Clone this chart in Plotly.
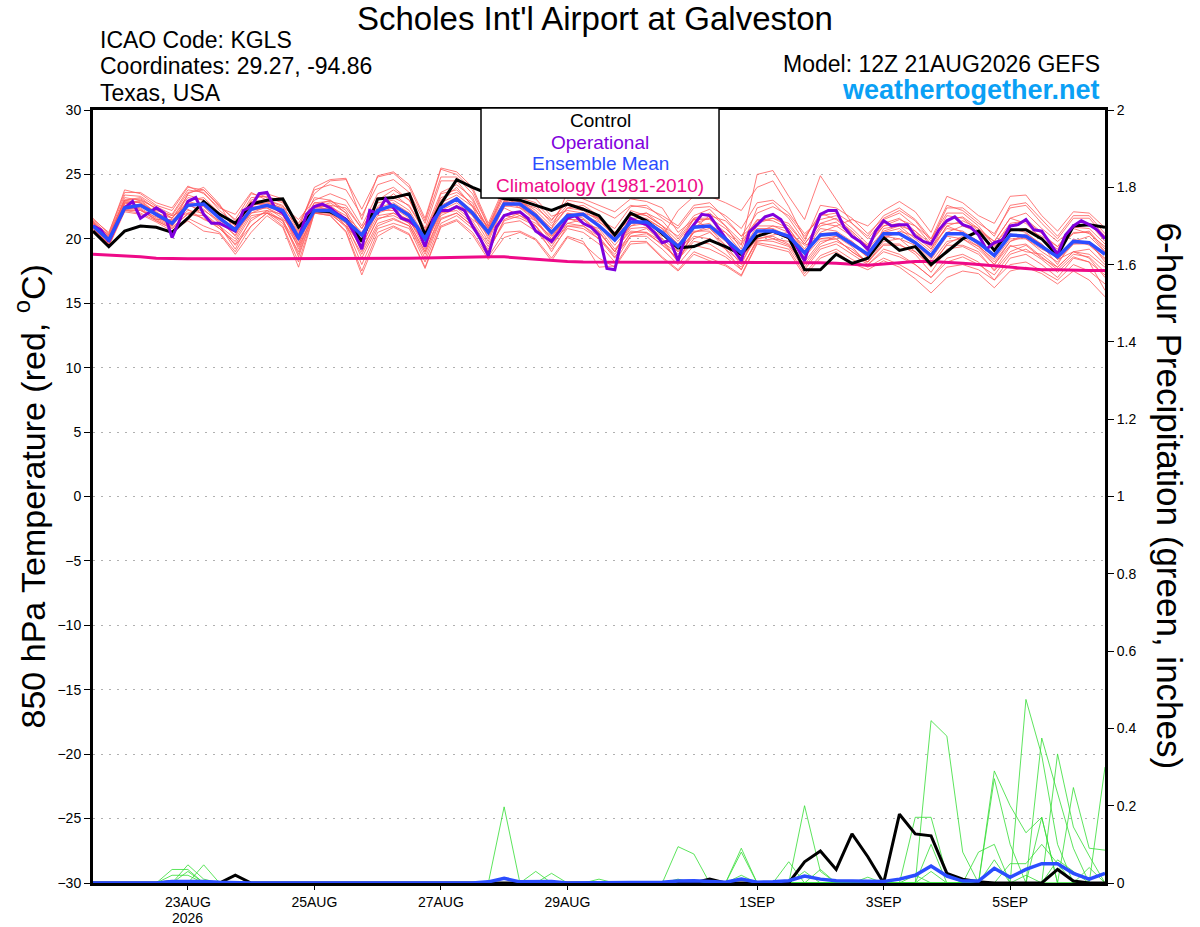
import pandas as pd
import plotly.graph_objects as go

# 6-hourly GEFS times, 12Z 21 Aug 2026 to 12Z 6 Sep 2026
times = pd.date_range("2026-08-21 12:00", periods=65, freq="6h")
op_times = pd.date_range("2026-08-21 12:00", periods=129, freq="3h")

# 850 hPa temperature (C)
control_t = [20.6, 19.4, 20.6, 21.0, 20.9, 20.5, 21.6, 22.9, 21.9, 21.2,
             22.7, 23.0, 23.1, 20.9, 22.2, 22.1, 21.5, 19.8, 23.1, 23.2,
             23.5, 20.3, 22.7, 24.6, 24.0, 23.5, 23.1, 23.0, 22.6, 22.2,
             22.7, 22.3, 21.8, 20.3, 22.0, 21.4, 20.4, 19.3, 19.4, 19.9,
             19.4, 18.8, 20.2, 20.6, 20.1, 17.6, 17.6, 18.8, 18.1, 18.5,
             20.1, 19.1, 19.4, 18.0, 19.0, 20.0, 20.6, 19.1, 20.7, 20.7,
             20.0, 18.7, 21.0, 21.1, 20.9]

# operational GFS is 3-hourly
oper_t = [21.0, 20.7, 19.8, 21.1, 22.4, 22.9, 21.6, 22.0,
          22.4, 22.0, 20.1, 21.5, 22.9, 23.2, 21.9, 21.2,
          21.2, 20.9, 20.6, 22.2, 22.5, 23.5, 23.6, 22.4,
          22.0, 21.1, 20.0, 21.9, 22.5, 22.7, 22.4, 21.9,
          21.5, 20.5, 19.2, 22.2, 22.0, 23.1, 22.4, 21.6,
          21.4, 20.9, 19.4, 21.5, 22.2, 22.2, 22.5, 22.2,
          21.0, 20.0, 18.7, 20.9, 21.8, 22.0, 22.1, 21.6,
          20.6, 20.2, 19.8, 20.6, 21.6, 21.8, 21.2, 20.9,
          20.3, 17.7, 17.6, 20.3, 21.6, 21.3, 21.1, 20.5,
          19.7, 19.9, 18.3, 20.3, 21.1, 21.9, 21.8, 20.9,
          20.0, 19.2, 18.3, 20.5, 21.1, 21.7, 21.9, 21.5,
          20.5, 19.4, 18.3, 20.3, 21.9, 22.2, 22.2, 20.9,
          20.2, 19.8, 19.2, 20.6, 21.4, 21.0, 21.1, 21.1,
          20.2, 19.8, 19.6, 20.7, 21.4, 21.7, 21.1, 20.9,
          20.3, 19.2, 19.7, 19.9, 21.0, 21.1, 21.5, 20.7,
          20.6, 19.7, 18.8, 20.3, 21.0, 21.4, 21.1, 20.7,
          20.0]

mean_t = [21.0, 19.9, 22.4, 22.6, 21.9, 21.2, 22.6, 22.7, 21.6, 20.7,
          22.3, 22.6, 22.2, 20.1, 22.2, 22.2, 21.4, 20.3, 22.2, 22.6,
          21.8, 20.0, 22.4, 23.1, 22.0, 20.5, 22.7, 22.7, 21.8, 20.5,
          21.8, 21.9, 21.0, 19.9, 21.3, 21.3, 20.5, 19.4, 20.9, 21.0,
          20.0, 18.9, 20.6, 20.6, 20.2, 18.9, 20.3, 20.4, 19.6, 18.8,
          20.4, 20.4, 19.7, 18.7, 20.4, 20.4, 19.7, 18.7, 20.3, 20.2,
          19.4, 18.6, 19.8, 19.7, 18.8]

clim_t = [18.8, 18.75, 18.7, 18.6, 18.5, 18.45, 18.45, 18.45, 18.45, 18.45,
          18.45, 18.45, 18.45, 18.45, 18.45, 18.47, 18.48, 18.5, 18.5, 18.5,
          18.5, 18.52, 18.55, 18.58, 18.6, 18.6, 18.6, 18.5, 18.4, 18.3,
          18.25, 18.2, 18.2, 18.2, 18.2, 18.2, 18.15, 18.15, 18.15, 18.15,
          18.15, 18.15, 18.15, 18.15, 18.15, 18.15, 18.15, 18.1, 18.0, 17.95,
          18.05, 18.15, 18.25, 18.25, 18.2, 18.1, 18.0, 17.9, 17.8, 17.7,
          17.6, 17.6, 17.55, 17.55, 17.55]

members_t = [
    [21.6, 20.4, 23.8, 23.5, 22.6, 22.2, 24.0, 23.8, 22.5, 21.5, 23.5, 23.2, 22.8,
     21.2, 23.5, 24.5, 24.6, 22.3, 24.8, 25.1, 24.0, 21.4, 25.4, 25.0, 23.8, 21.0,
     23.8, 23.0, 22.6, 21.2, 22.6, 22.4, 21.6, 20.5, 21.8, 22.0, 21.0, 20.2, 21.8,
     22.3, 21.0, 19.8, 21.5, 21.4, 20.8, 19.2, 21.0, 21.3, 20.2, 19.5, 21.2, 21.6,
     20.6, 19.2, 21.5, 21.7, 20.8, 19.8, 21.6, 21.2, 20.0, 19.2, 20.9, 20.8, 19.6],
    [20.5, 19.4, 22.1, 21.9, 21.3, 20.6, 21.4, 20.6, 20.4, 18.8, 20.5, 21.8, 20.9,
     17.8, 22.0, 21.8, 20.5, 17.2, 20.2, 20.9, 20.3, 17.7, 20.9, 21.4, 20.3, 18.4,
     20.1, 20.5, 19.9, 18.3, 20.1, 19.6, 18.5, 17.8, 19.6, 19.7, 18.5, 17.5, 18.8,
     18.3, 17.9, 17.1, 19.6, 19.3, 19.0, 17.1, 18.5, 19.0, 18.1, 17.6, 18.3, 17.8,
     16.9, 15.8, 17.0, 17.5, 17.3, 16.2, 17.5, 17.8, 17.3, 16.5, 17.5, 16.8, 15.5],
    [21.3, 20.0, 23.2, 23.0, 22.0, 21.0, 23.5, 24.0, 22.7, 20.5, 22.0, 22.5, 22.0,
     19.5, 22.4, 22.8, 22.0, 19.8, 22.5, 23.5, 22.5, 20.5, 23.0, 24.0, 22.5, 20.0,
     22.8, 22.9, 22.0, 20.8, 23.6, 23.1, 22.6, 22.1, 23.1, 22.9, 22.4, 20.5, 21.5,
     20.8, 19.5, 18.0, 20.5, 20.0, 19.5, 18.0, 19.6, 20.2, 19.8, 18.5, 20.8, 21.0,
     20.0, 19.0, 21.0, 20.5, 19.5, 18.2, 19.8, 20.4, 19.6, 18.4, 19.0, 18.5, 17.0],
    [20.8, 19.6, 22.5, 22.3, 21.5, 21.5, 22.0, 22.3, 21.2, 20.8, 22.8, 22.9, 22.3,
     20.5, 22.6, 22.2, 21.0, 19.5, 21.8, 22.0, 21.2, 19.0, 22.0, 22.6, 21.5, 20.6,
     22.9, 23.3, 23.1, 21.75, 22.2, 22.0, 21.0, 19.5, 21.0, 21.5, 20.8, 19.0, 20.5,
     21.0, 20.5, 19.5, 25.0, 25.3, 23.3, 21.5, 24.9, 23.1, 21.2, 20.0, 21.5, 22.0,
     21.0, 20.0, 22.0, 22.0, 21.0, 19.5, 21.0, 21.5, 20.5, 19.0, 20.5, 20.5, 19.0],
    [21.0, 20.2, 22.3, 22.5, 22.2, 21.8, 22.3, 21.5, 21.0, 19.5, 21.0, 22.0, 21.5,
     18.8, 22.1, 22.0, 21.2, 18.5, 21.0, 21.5, 21.0, 18.5, 21.5, 22.0, 21.0, 19.0,
     21.5, 22.0, 21.0, 19.0, 21.0, 21.0, 20.0, 18.5, 20.5, 20.5, 19.5, 18.5, 20.0,
     20.5, 19.5, 18.5, 20.2, 20.5, 20.0, 18.5, 20.5, 21.0, 21.5, 21.0, 22.2, 22.9,
     22.1, 20.5, 23.3, 22.8, 21.8, 21.2, 23.3, 23.4, 21.8, 20.6, 22.1, 22.0, 20.85],
    [21.2, 19.8, 22.8, 22.9, 22.0, 21.2, 23.0, 23.2, 22.0, 21.0, 23.0, 23.5, 23.1,
     20.8, 24.0, 24.6, 24.7, 21.5, 24.9, 25.2, 24.2, 21.6, 25.5, 25.2, 24.0, 21.2,
     24.0, 23.0, 22.0, 20.2, 21.5, 21.5, 20.5, 19.0, 20.8, 20.9, 20.0, 19.0, 20.5,
     20.8, 19.8, 18.5, 20.0, 20.3, 20.5, 19.5, 20.0, 20.0, 19.0, 18.2, 19.5, 19.5,
     19.0, 18.0, 19.5, 19.5, 19.0, 17.5, 19.0, 19.5, 18.5, 17.8, 19.0, 19.2, 18.0],
    [20.6, 19.5, 22.2, 22.0, 21.4, 20.8, 21.6, 21.0, 20.5, 19.0, 21.0, 22.0, 21.0,
     18.2, 22.0, 21.8, 20.6, 17.5, 20.5, 21.0, 20.4, 17.8, 21.0, 21.5, 20.5, 18.6,
     20.5, 20.6, 20.0, 18.5, 20.2, 19.8, 17.8, 17.9, 19.8, 19.8, 18.6, 17.6, 19.0,
     18.5, 18.0, 17.2, 19.7, 19.5, 19.2, 17.3, 18.7, 19.2, 18.4, 17.8, 18.5, 18.0,
     17.3, 16.5, 17.8, 18.0, 17.6, 16.8, 18.0, 18.2, 17.5, 16.8, 18.0, 17.5, 16.5],
    [21.5, 20.5, 23.6, 23.6, 22.8, 22.4, 24.1, 23.5, 22.4, 21.9, 23.6, 23.0, 22.5,
     21.5, 23.0, 23.5, 23.0, 21.0, 23.5, 24.0, 23.0, 20.8, 24.5, 24.5, 23.0, 20.8,
     23.3, 22.5, 21.5, 20.0, 22.0, 21.8, 21.0, 20.0, 22.0, 21.8, 21.0, 19.8, 21.5,
     21.5, 20.5, 19.0, 21.0, 21.0, 20.5, 19.0, 20.8, 20.6, 19.8, 18.8, 20.2, 20.0,
     19.5, 18.2, 19.8, 20.0, 19.2, 18.0, 19.5, 19.0, 18.8, 17.8, 19.0, 18.8, 17.8],
    [20.9, 19.7, 22.6, 22.4, 21.6, 21.0, 22.5, 22.8, 21.5, 20.2, 22.2, 22.4, 21.8,
     19.8, 22.3, 22.4, 21.5, 20.0, 22.0, 22.4, 21.6, 19.5, 22.2, 22.8, 21.8, 20.2,
     22.5, 22.7, 21.6, 20.4, 21.6, 21.8, 21.3, 20.5, 21.5, 21.0, 20.2, 22.2, 23.3,
     23.3, 22.8, 22.2, 24.0, 24.5, 22.5, 20.0, 22.0, 21.5, 20.5, 19.0, 20.5, 20.8,
     19.8, 18.5, 20.5, 21.0, 20.5, 19.0, 20.8, 20.5, 19.5, 18.0, 20.0, 19.5, 18.5],
    [21.1, 20.1, 23.0, 23.2, 22.3, 21.6, 23.2, 23.0, 21.8, 20.6, 22.6, 22.8, 22.2,
     20.2, 22.5, 22.5, 21.8, 20.5, 22.4, 22.8, 22.0, 20.0, 22.6, 23.2, 22.2, 20.6,
     22.7, 22.6, 21.6, 20.6, 21.6, 21.2, 20.8, 19.2, 20.6, 20.5, 19.8, 18.8, 20.2,
     20.0, 19.2, 18.2, 20.2, 20.5, 20.0, 18.6, 20.0, 20.2, 19.4, 18.0, 19.2, 18.8,
     18.0, 17.0, 18.5, 18.8, 18.2, 16.8, 18.5, 18.8, 18.0, 17.0, 18.5, 18.2, 16.0],
    [20.7, 19.9, 22.4, 22.7, 22.1, 21.3, 22.8, 22.5, 21.3, 20.3, 22.4, 22.6, 22.0,
     19.2, 22.2, 22.0, 21.3, 19.2, 21.5, 22.0, 21.5, 19.2, 22.5, 23.0, 21.8, 19.8,
     22.6, 22.4, 21.4, 20.0, 21.2, 21.5, 20.5, 19.0, 21.2, 21.3, 20.5, 19.2, 21.2,
     21.6, 20.2, 18.8, 20.5, 21.0, 20.8, 19.0, 20.4, 20.5, 19.6, 18.6, 20.0, 20.6,
     20.2, 19.2, 21.0, 21.4, 20.8, 19.5, 21.2, 21.4, 20.4, 19.4, 21.0, 21.2, 19.8],
    [21.3, 20.0, 22.9, 22.8, 21.8, 21.0, 22.6, 22.2, 21.4, 20.9, 22.5, 22.4, 21.6,
     20.0, 22.4, 22.6, 22.4, 20.8, 22.8, 23.0, 22.2, 20.2, 22.8, 23.4, 22.5, 20.9,
     22.9, 23.0, 22.2, 21.0, 22.4, 22.6, 21.8, 20.0, 21.6, 21.6, 20.8, 19.6, 21.0,
     21.2, 20.0, 18.6, 20.8, 20.8, 20.2, 18.8, 20.2, 20.4, 19.5, 18.6, 20.2, 20.4,
     19.6, 18.4, 20.2, 20.0, 19.4, 18.4, 20.0, 20.0, 19.0, 18.2, 19.6, 19.6, 18.4],
    [21.4, 20.3, 23.4, 23.3, 22.5, 21.9, 23.8, 23.6, 22.2, 21.2,
     23.2, 23.3, 22.9, 20.9, 23.8, 24.2, 23.8, 21.8, 24.2, 24.6,
     23.6, 21.2, 24.8, 24.8, 23.5, 21.0, 23.5, 22.8, 22.4, 21.4,
     23.0, 22.8, 22.2, 21.6, 22.6, 22.4, 21.8, 21.0, 22.6, 22.8,
     21.6, 20.2, 22.0, 22.5, 21.8, 20.2, 21.8, 22.0, 21.2, 20.2,
     21.8, 22.4, 21.5, 20.0, 22.6, 22.2, 21.2, 20.4, 22.4, 22.6,
     21.2, 20.0, 21.6, 21.6, 20.2],
    [20.6, 19.6, 22.2, 22.2, 21.5, 20.9, 21.9, 21.8, 20.8, 19.6,
     21.4, 22.2, 21.4, 18.6, 22.1, 22.0, 20.9, 18.0, 20.8, 21.2,
     20.8, 18.2, 21.2, 21.8, 20.8, 19.2, 21.2, 21.4, 20.6, 19.2,
     20.8, 20.5, 19.6, 18.2, 20.2, 20.2, 19.2, 18.0, 19.5, 19.2,
     18.6, 17.6, 19.9, 19.8, 19.4, 17.6, 19.2, 19.6, 18.8, 18.0,
     19.0, 18.6, 18.0, 17.0, 18.2, 18.6, 18.0, 17.2, 18.8, 19.2,
     18.4, 17.4, 18.6, 18.2, 17.2],
    [21.0, 19.8, 22.7, 23.0, 22.4, 21.6, 22.9, 22.6, 21.7, 20.8,
     22.9, 23.0, 22.6, 20.6, 23.2, 23.0, 22.2, 20.2, 22.2, 22.6,
     22.0, 19.8, 23.5, 23.8, 22.6, 20.8, 23.6, 23.2, 22.8, 21.5,
     22.8, 22.4, 21.5, 20.8, 22.5, 22.6, 21.6, 20.8, 22.4, 22.5,
     21.8, 20.8, 22.8, 23.0, 22.0, 20.4, 21.5, 21.8, 20.8, 19.6,
     21.0, 21.5, 21.0, 19.6, 21.8, 21.6, 20.6, 19.8, 21.6, 22.0,
     20.8, 19.8, 20.8, 20.4, 19.4],
    [20.8, 19.5, 22.3, 22.2, 21.7, 21.1, 22.2, 22.0, 21.0, 19.2,
     21.6, 22.1, 21.2, 19.0, 22.3, 22.3, 21.6, 19.0, 21.6, 21.8,
     21.2, 19.0, 21.8, 22.4, 21.4, 19.6, 21.8, 21.6, 21.0, 19.6,
     21.0, 20.8, 20.0, 18.8, 20.4, 20.8, 19.8, 18.2, 20.8, 21.8,
     21.4, 20.2, 21.2, 21.6, 21.0, 19.6, 21.2, 21.6, 20.6, 19.4,
     21.0, 21.2, 20.4, 19.4, 20.8, 20.6, 19.8, 18.6, 20.4, 20.0,
     19.2, 18.6, 19.8, 20.2, 19.0],
    [21.2, 20.1, 22.8, 22.6, 21.8, 21.4, 22.8, 21.8, 21.0, 20.0,
     22.0, 22.2, 21.9, 19.6, 22.6, 23.0, 22.0, 19.4, 22.2, 22.2,
     21.4, 19.6, 22.0, 22.2, 21.2, 19.4, 21.8, 22.0, 21.4, 19.8,
     22.0, 21.6, 20.6, 19.0, 21.0, 21.2, 20.0, 18.2, 20.6, 20.6,
     19.2, 17.6, 20.0, 20.2, 19.6, 17.8, 19.4, 19.8, 19.2, 18.2,
     19.6, 19.6, 18.8, 17.4, 19.2, 19.4, 18.8, 17.6, 19.4, 19.6,
     18.6, 17.6, 18.8, 18.6, 17.4],
    [21.4, 20.2, 23.0, 22.8, 22.0, 21.6, 23.4, 23.0, 22.0, 21.0,
     22.8, 22.6, 22.2, 20.4, 22.8, 22.9, 22.6, 20.8, 23.0, 23.8,
     23.0, 20.6, 23.6, 24.2, 23.2, 20.6, 23.0, 22.4, 21.8, 20.8,
     22.4, 22.2, 21.4, 20.2, 22.2, 21.8, 21.0, 19.4, 21.6, 22.0,
     21.0, 19.2, 22.4, 22.8, 21.6, 19.8, 22.6, 22.4, 21.6, 20.4,
     21.6, 22.2, 21.4, 19.8, 22.4, 22.4, 21.4, 20.2, 22.6, 22.8,
     21.5, 20.2, 21.8, 21.8, 20.4],
    [20.9, 19.6, 22.4, 22.3, 21.4, 20.8, 22.0, 21.6, 20.8, 19.8,
     21.8, 22.0, 21.4, 19.4, 22.0, 21.9, 21.0, 18.8, 21.2, 21.6,
     21.0, 18.8, 21.6, 22.0, 21.0, 19.0, 21.4, 21.8, 21.0, 19.4,
     21.2, 21.0, 20.2, 18.6, 20.2, 20.4, 19.6, 18.4, 19.8, 19.6,
     18.8, 17.8, 19.8, 20.0, 19.8, 18.2, 19.8, 20.0, 19.0, 18.2,
     19.8, 20.0, 19.0, 17.8, 19.6, 20.2, 19.4, 18.0, 19.8, 20.2,
     19.6, 18.4, 19.6, 19.8, 18.2],
    [21.2, 20.3, 23.0, 23.1, 22.3, 21.8, 23.6, 23.8, 22.6, 21.4,
     22.6, 22.8, 22.4, 20.9, 22.8, 22.6, 21.6, 20.4, 23.2, 23.2,
     22.6, 20.6, 23.2, 23.6, 22.8, 20.4, 22.4, 21.8, 21.2, 20.2,
     21.8, 22.0, 21.6, 20.2, 21.8, 22.0, 21.4, 20.0, 21.6, 21.6,
     20.8, 19.6, 21.4, 21.6, 21.2, 19.6, 21.2, 21.0, 20.2, 19.2,
     20.6, 21.0, 20.6, 19.6, 21.2, 21.2, 20.4, 19.4, 20.6, 20.8,
     20.2, 19.4, 20.4, 20.6, 19.2],
]

# 6-hour precipitation (inches)
control_p = [0, 0, 0, 0, 0, 0.003, 0.003, 0, 0, 0.02,
             0, 0, 0, 0, 0, 0, 0, 0, 0, 0,
             0, 0, 0, 0, 0, 0, 0, 0, 0, 0,
             0, 0, 0, 0, 0, 0, 0, 0, 0, 0.01,
             0, 0, 0, 0, 0, 0.055, 0.083, 0.035, 0.127, 0.068,
             0, 0.178, 0.127, 0.122, 0.025, 0.01, 0.003, 0, 0, 0,
             0, 0.035, 0.005, 0, 0]

mean_p = [0, 0, 0, 0, 0, 0.004, 0.005, 0.004, 0.002, 0,
          0, 0, 0, 0, 0, 0, 0, 0, 0, 0,
          0, 0, 0, 0, 0, 0.003, 0.012, 0.003, 0.003, 0.004,
          0, 0, 0.002, 0, 0, 0, 0.002, 0.005, 0.006, 0.004,
          0.002, 0.01, 0.002, 0.003, 0.006, 0.018, 0.01, 0.006, 0.006, 0.005,
          0.004, 0.01, 0.02, 0.044, 0.018, 0.005, 0.005, 0.038, 0.015, 0.035,
          0.05, 0.05, 0.025, 0.01, 0.025]

members_p = [
    [0, 0, 0, 0, 0, 0.035, 0.035, 0, 0, 0, 0, 0, 0, 0, 0, 0, 0, 0, 0, 0, 0, 0,
     0, 0, 0, 0, 0, 0, 0, 0, 0, 0, 0, 0, 0, 0, 0, 0.094, 0.075, 0, 0, 0, 0, 0,
     0, 0, 0, 0, 0, 0, 0, 0, 0, 0.42, 0.38, 0.08, 0, 0, 0, 0, 0.17, 0, 0, 0, 0],
    [0, 0, 0, 0, 0, 0, 0.047, 0.01, 0, 0, 0, 0, 0, 0, 0, 0, 0, 0, 0, 0, 0, 0,
     0, 0, 0, 0, 0, 0, 0, 0, 0, 0, 0, 0, 0, 0, 0, 0, 0, 0, 0, 0.09, 0, 0,
     0, 0, 0, 0, 0, 0, 0, 0, 0.17, 0.17, 0.02, 0, 0, 0, 0, 0.475, 0.33, 0.1, 0, 0, 0],
    [0, 0, 0, 0, 0, 0, 0, 0.047, 0, 0, 0, 0, 0, 0, 0, 0, 0, 0, 0, 0, 0, 0,
     0, 0, 0, 0, 0.197, 0, 0, 0, 0, 0, 0, 0, 0, 0, 0, 0, 0, 0, 0, 0, 0, 0,
     0, 0.2, 0.03, 0, 0, 0, 0, 0, 0, 0, 0, 0, 0, 0.29, 0.2, 0.13, 0.17, 0, 0, 0, 0],
    [0, 0, 0, 0, 0, 0.02, 0.02, 0, 0, 0, 0, 0, 0, 0, 0, 0, 0, 0, 0, 0, 0, 0,
     0, 0, 0, 0, 0, 0, 0.03, 0, 0, 0, 0, 0, 0, 0, 0, 0, 0, 0, 0, 0.08, 0, 0,
     0, 0, 0, 0, 0, 0, 0, 0, 0, 0.1, 0, 0, 0, 0, 0, 0, 0.375, 0.23, 0.09, 0, 0],
    [0, 0, 0, 0, 0, 0, 0.03, 0, 0, 0, 0, 0, 0, 0, 0, 0, 0, 0, 0, 0, 0, 0,
     0, 0, 0, 0, 0, 0, 0, 0.025, 0, 0, 0, 0, 0, 0, 0, 0, 0, 0, 0, 0, 0, 0,
     0.055, 0, 0, 0, 0, 0, 0, 0, 0, 0, 0, 0, 0, 0, 0, 0, 0, 0.334, 0.145, 0.07, 0],
    [0, 0, 0, 0, 0, 0, 0, 0, 0, 0, 0, 0, 0, 0, 0, 0, 0, 0, 0, 0, 0, 0,
     0, 0, 0, 0, 0, 0, 0, 0, 0, 0, 0.01, 0, 0, 0, 0, 0.01, 0, 0, 0, 0, 0, 0,
     0, 0.03, 0, 0, 0, 0, 0, 0, 0, 0, 0, 0, 0, 0.27, 0.1, 0, 0, 0, 0.247, 0.09, 0.085],
    [0, 0, 0, 0, 0, 0, 0, 0, 0, 0, 0, 0, 0, 0, 0, 0, 0, 0, 0, 0, 0, 0,
     0, 0, 0, 0, 0, 0, 0, 0, 0, 0, 0, 0, 0, 0, 0, 0, 0, 0, 0, 0.02, 0, 0,
     0, 0, 0, 0, 0, 0, 0, 0, 0, 0, 0, 0, 0.08, 0.1, 0, 0, 0, 0, 0, 0, 0.3],
    [0, 0, 0, 0, 0, 0, 0, 0, 0, 0, 0, 0, 0, 0, 0, 0, 0, 0, 0, 0, 0, 0,
     0, 0, 0, 0, 0, 0, 0, 0, 0, 0, 0, 0, 0, 0, 0, 0, 0, 0, 0, 0, 0, 0,
     0, 0, 0.035, 0, 0, 0, 0, 0, 0.02, 0, 0, 0, 0, 0, 0.05, 0.05, 0.1, 0.05, 0, 0.04, 0],
    [0, 0, 0, 0, 0, 0, 0, 0, 0, 0, 0, 0, 0, 0, 0, 0, 0, 0, 0, 0, 0, 0,
     0, 0, 0, 0, 0, 0, 0, 0, 0, 0, 0, 0, 0, 0, 0, 0, 0, 0, 0, 0, 0, 0,
     0, 0, 0, 0, 0, 0.015, 0, 0, 0, 0.03, 0, 0, 0, 0.06, 0, 0.02, 0, 0.06, 0.03, 0, 0],
]

tick_dates = ["2026-08-23", "2026-08-25", "2026-08-27", "2026-08-29",
              "2026-09-01", "2026-09-03", "2026-09-05"]
tick_text = ["23AUG", "25AUG", "27AUG", "29AUG", "1SEP", "3SEP", "5SEP"]
year_label = "2026"

FONT = "Liberation Sans, Arial, sans-serif"
RED = "#ff5a5a"
GREEN = "#33dd33"
PURPLE = "#8000dd"
BLUE = "#2b4dff"
PINK = "#ee0a88"

fig = go.Figure()

for m in members_t:
    fig.add_trace(go.Scatter(x=times, y=m, mode="lines",
                             line=dict(color=RED, width=0.8)))
for m in members_p:
    fig.add_trace(go.Scatter(x=times, y=m, mode="lines", yaxis="y2",
                             line=dict(color=GREEN, width=0.8)))

fig.add_trace(go.Scatter(x=times, y=clim_t, mode="lines",
                         line=dict(color=PINK, width=3)))
fig.add_trace(go.Scatter(x=times, y=control_t, mode="lines",
                         line=dict(color="black", width=3)))
fig.add_trace(go.Scatter(x=op_times, y=oper_t, mode="lines",
                         line=dict(color=PURPLE, width=3)))
fig.add_trace(go.Scatter(x=times, y=mean_t, mode="lines",
                         line=dict(color=BLUE, width=3.5)))
fig.add_trace(go.Scatter(x=times, y=control_p, mode="lines", yaxis="y2",
                         line=dict(color="black", width=3)))
fig.add_trace(go.Scatter(x=times, y=mean_p, mode="lines", yaxis="y2",
                         line=dict(color=BLUE, width=3.5)))

fig.update_layout(
    width=1200, height=927,
    margin=dict(l=93, r=95, t=110, b=44),
    paper_bgcolor="white", plot_bgcolor="white",
    showlegend=False,
    font=dict(family=FONT, size=14, color="black"),
    xaxis=dict(range=["2026-08-21 12:00", "2026-09-06 12:00"],
               tickvals=tick_dates, ticktext=tick_text, automargin=False,
               ticks="outside", ticklen=4, tickwidth=1, tickcolor="black",
               showline=True, linewidth=3, linecolor="black", mirror=True,
               showgrid=False, zeroline=False, tickfont=dict(size=14)),
    yaxis=dict(range=[-30, 30], dtick=5, ticks="outside", ticklen=6,
               automargin=False, tickcolor="black", showline=True,
               linewidth=3, linecolor="black",
               showgrid=True, gridcolor="#b0b0b0", gridwidth=1,
               griddash="2px,6px", zeroline=False, tickfont=dict(size=14)),
    yaxis2=dict(range=[0, 2], dtick=0.2, overlaying="y", side="right",
                automargin=False, ticks="outside", ticklen=6, tickcolor="black",
                showline=True, linewidth=3, linecolor="black",
                showgrid=False, zeroline=False, tickfont=dict(size=14)),
)

# year under the first date label
fig.add_annotation(text=year_label, x=tick_dates[0], y=-0.0453, xref="x", yref="paper",
                   showarrow=False, xanchor="center", yanchor="middle",
                   font=dict(size=14))

# legend box
fig.add_shape(type="rect", xref="paper", yref="paper",
              x0=0.3834, x1=0.6186, y0=0.886, y1=1.0026,
              fillcolor="white", line=dict(color="black", width=1.5),
              layer="above")

legend_items = [("Control", "black", 0.9858),
                ("Operational", PURPLE, 0.9586),
                ("Ensemble Mean", BLUE, 0.9314),
                ("Climatology (1981-2010)", PINK, 0.9017)]
for label, col, yy in legend_items:
    fig.add_annotation(text=label, x=0.501, y=yy, xref="paper", yref="paper",
                       showarrow=False, xanchor="center", yanchor="middle",
                       font=dict(size=19, color=col))

# header texts
fig.add_annotation(text="Scholes Int'l Airport at Galveston", x=0.496, y=1.119,
                   xref="paper", yref="paper", showarrow=False,
                   xanchor="center", yanchor="middle", font=dict(size=33))
for txt, yy in [("ICAO Code: KGLS", 1.0906),
                ("Coordinates: 29.27, -94.86", 1.0569),
                ("Texas, USA", 1.022)]:
    fig.add_annotation(text=txt, x=0.005, y=yy, xref="paper", yref="paper",
                       showarrow=False, xanchor="left", yanchor="middle",
                       font=dict(size=23))
fig.add_annotation(text="Model: 12Z 21AUG2026 GEFS", x=0.997, y=1.0595,
                   xref="paper", yref="paper", showarrow=False,
                   xanchor="right", yanchor="middle", font=dict(size=23))
fig.add_annotation(text="<b>weathertogether.net</b>", x=0.997, y=1.0259,
                   xref="paper", yref="paper", showarrow=False,
                   xanchor="right", yanchor="middle",
                   font=dict(size=27, color="#0aa0f5"))

# axis titles
fig.add_annotation(text="850 hPa Temperature (red, <sup>o</sup>C)", x=-0.0623, y=0.5,
                   xref="paper", yref="paper", showarrow=False, textangle=-90,
                   xanchor="center", yanchor="middle", font=dict(size=34))
fig.add_annotation(text="6-hour Precipitation (green, inches)", x=1.0642, y=0.5,
                   xref="paper", yref="paper", showarrow=False, textangle=90,
                   xanchor="center", yanchor="middle", font=dict(size=35))

# drop the default page margin so the figure sits at the window corner
fig.write_html("out.html", config={"displayModeBar": False},
               post_script="document.body.style.margin='0px';")
